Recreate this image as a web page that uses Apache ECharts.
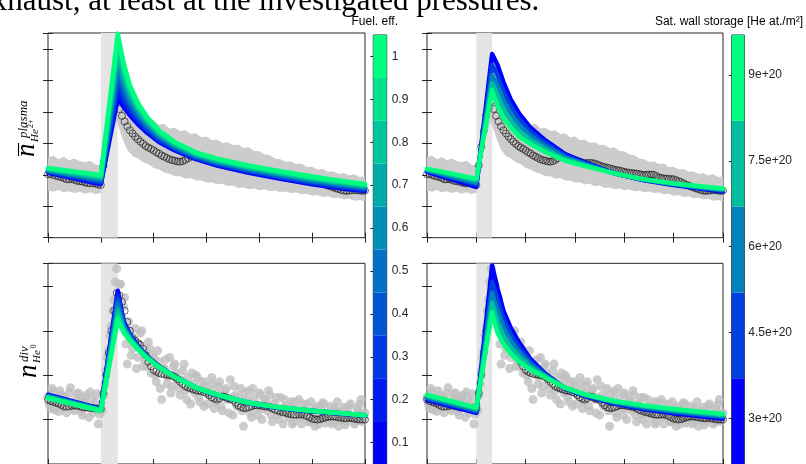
<!DOCTYPE html>
<html><head><meta charset="utf-8">
<script src="https://cdn.jsdelivr.net/npm/echarts@6/dist/echarts.min.js"></script>
<style>html,body{margin:0;padding:0;background:#fff}#c{width:806px;height:464px}</style>
</head><body><div id="c"></div><script>
// ---------------- data ----------------
const TOP_TEXT = 'exhaust, at least at the investigated pressures.';
const CB1_TITLE = 'Fuel. eff.';
const CB2_TITLE = 'Sat. wall storage [He at./m\u00B2]';
const SHADE = [1.0, 1.32];

// uncertainty band of the upper (plasma) measurement
const BAND_X = [0,0.1,0.2,0.3,0.4,0.5,0.6,0.7,0.8,0.9,1.0,1.1,1.2,1.3,1.4,1.5,1.6,1.7,1.8,1.9,2.0,2.1,2.2,2.3,2.4,2.5,2.6,2.7,2.8,2.9,3.0,3.1,3.2,3.3,3.4,3.5,3.6,3.7,3.8,3.9,4.0,4.1,4.2,4.3,4.4,4.5,4.6,4.7,4.8,4.9,5.0,5.1,5.2,5.3,5.4,5.5,5.6,5.7,5.8,5.9,6.0];
const TOP_UP = [2.55,2.62,2.50,2.58,2.47,2.52,2.44,2.40,2.45,2.33,2.30,3.50,4.50,4.90,4.55,4.22,4.08,3.92,3.86,3.72,3.74,3.60,3.63,3.48,3.50,3.40,3.42,3.30,3.33,3.20,3.22,3.10,3.13,3.02,3.04,2.95,2.96,2.86,2.88,2.76,2.75,2.65,2.63,2.52,2.50,2.42,2.43,2.35,2.36,2.25,2.26,2.17,2.19,2.10,2.12,2.03,2.06,1.98,2.02,1.93,1.95];
const TOP_LO = [1.50,1.46,1.52,1.44,1.48,1.42,1.46,1.40,1.45,1.39,1.42,2.30,3.30,3.70,3.20,2.80,2.60,2.52,2.40,2.34,2.22,2.17,2.08,2.04,1.96,1.96,1.88,1.90,1.82,1.82,1.76,1.76,1.70,1.72,1.64,1.66,1.58,1.60,1.54,1.57,1.51,1.54,1.48,1.50,1.45,1.47,1.42,1.44,1.38,1.40,1.34,1.36,1.30,1.32,1.26,1.28,1.22,1.24,1.18,1.20,1.15];

// measured (smoothed) points, black circles
const FINE_X = [0,0.05,0.1,0.15,0.2,0.25,0.3,0.35,0.4,0.45,0.5,0.55,0.6,0.65,0.7,0.75,0.8,0.85,0.9,0.95,1.0,1.05,1.1,1.15,1.2,1.25,1.3,1.35,1.4,1.45,1.5,1.55,1.6,1.65,1.7,1.75,1.8,1.85,1.9,1.95,2.0,2.05,2.1,2.15,2.2,2.25,2.3,2.35,2.4,2.45,2.5,2.55,2.6,2.65,2.7,2.75,2.8,2.85,2.9,2.95,3.0,3.05,3.1,3.15,3.2,3.25,3.3,3.35,3.4,3.45,3.5,3.55,3.6,3.65,3.7,3.75,3.8,3.85,3.9,3.95,4.0,4.05,4.1,4.15,4.2,4.25,4.3,4.35,4.4,4.45,4.5,4.55,4.6,4.65,4.7,4.75,4.8,4.85,4.9,4.95,5.0,5.05,5.1,5.15,5.2,5.25,5.3,5.35,5.4,5.45,5.5,5.55,5.6,5.65,5.7,5.75,5.8,5.85,5.9,5.95,6.0];
const TOP_BLACK = [2.02,2.03,2.00,1.97,1.95,1.93,1.90,1.86,1.86,1.87,
 1.84,1.81,1.80,1.79,1.76,1.74,1.73,1.74,1.72,1.69,
 1.68,2.30,2.90,3.40,3.90,4.15,4.35,4.10,3.88,3.70,
 3.55,3.42,3.32,3.22,3.14,3.06,2.99,2.92,2.87,2.83,
 2.78,2.72,2.68,2.62,2.58,2.54,2.50,2.47,2.45,2.43,
 2.42,2.44,2.48,2.53,2.58,2.59,2.57,2.55,2.52,2.50,
 2.47,2.44,2.42,2.39,2.37,2.38,2.38,2.38,2.36,2.33,
 2.30,2.27,2.25,2.23,2.21,2.19,2.17,2.15,2.14,2.12,
 2.10,2.08,2.07,2.06,2.05,2.04,2.03,2.01,2.00,2.00,
 2.01,2.01,2.00,1.96,1.92,1.90,1.89,1.88,1.87,1.87,
 1.86,1.83,1.80,1.77,1.73,1.69,1.66,1.63,1.60,1.57,
 1.55,1.52,1.50,1.49,1.50,1.51,1.52,1.51,1.50,1.49,
 1.50];
const BOT_BLACK = [1.45,1.42,1.40,1.38,1.36,1.33,1.30,1.29,1.30,1.31,
 1.32,1.31,1.30,1.28,1.27,1.27,1.26,1.26,1.25,1.25,
 1.24,1.60,2.00,2.50,3.00,3.45,3.85,3.80,3.65,3.45,
 3.20,3.00,2.85,2.78,2.72,2.68,2.60,2.45,2.30,2.20,
 2.12,2.08,2.05,2.03,2.02,2.01,2.00,1.99,1.96,1.91,
 1.85,1.80,1.75,1.72,1.70,1.68,1.66,1.65,1.64,1.62,
 1.60,1.55,1.50,1.47,1.45,1.48,1.52,1.51,1.48,1.46,
 1.44,1.38,1.32,1.28,1.26,1.26,1.28,1.30,1.32,1.32,
 1.32,1.31,1.30,1.29,1.28,1.25,1.22,1.20,1.18,1.16,
 1.15,1.13,1.12,1.11,1.11,1.11,1.12,1.10,1.08,1.05,
 1.02,1.01,1.00,1.01,1.03,1.05,1.06,1.07,1.07,1.06,
 1.05,1.04,1.03,1.03,1.04,1.03,1.02,1.01,1.00,1.00,
 1.00];

// raw divertor points, grey dots (two interleaved sets)
const GREY_Y = [1.50,1.25,1.62,1.38,1.18,1.55,1.45,1.15,1.60,1.35,1.20,1.58,1.42,1.10,1.50,1.32,1.62,1.15,1.40,0.90,1.30,1.55,2.10,2.55,3.10,3.70,4.40,4.05,3.30,3.75,2.25,3.00,2.60,3.05,2.40,2.95,2.20,2.55,2.75,2.05,2.40,1.85,2.30,1.45,2.15,1.80,2.40,1.75,2.25,1.90,1.55,2.10,1.65,1.95,1.35,1.80,2.00,1.50,1.85,1.30,1.75,1.55,1.95,1.25,1.60,1.85,1.20,1.65,1.45,1.90,1.10,1.55,1.35,1.70,0.85,1.40,1.65,1.05,1.50,1.25,1.60,1.00,1.45,1.20,1.55,0.95,1.35,1.10,1.50,0.90,1.30,1.05,1.40,0.95,1.25,1.45,0.90,1.15,1.35,0.95,1.20,0.85,1.30,1.05,1.38,0.92,1.15,1.30,0.95,1.20,0.85,1.10,1.28,0.95,1.30,1.05,0.90,1.25,1.35,0.95,1.15];
const FINE_X2 = [0.025,0.075,0.125,0.175,0.225,0.275,0.325,0.375,0.425,0.475,0.525,0.575,0.625,0.675,0.725,0.775,0.825,0.875,0.925,0.975,1.025,1.075,1.125,1.175,1.225,1.275,1.325,1.375,1.425,1.475,1.525,1.575,1.625,1.675,1.725,1.775,1.825,1.875,1.925,1.975,2.025,2.075,2.125,2.175,2.225,2.275,2.325,2.375,2.425,2.475,2.525,2.575,2.625,2.675,2.725,2.775,2.825,2.875,2.925,2.975,3.025,3.075,3.125,3.175,3.225,3.275,3.325,3.375,3.425,3.475,3.525,3.575,3.625,3.675,3.725,3.775,3.825,3.875,3.925,3.975,4.025,4.075,4.125,4.175,4.225,4.275,4.325,4.375,4.425,4.475,4.525,4.575,4.625,4.675,4.725,4.775,4.825,4.875,4.925,4.975,5.025,5.075,5.125,5.175,5.225,5.275,5.325,5.375,5.425,5.475,5.525,5.575,5.625,5.675,5.725,5.775,5.825,5.875,5.925,5.975];
const GREY_Y2 = [1.35,1.70,1.22,1.48,1.65,1.28,1.52,1.40,1.72,1.25,1.45,1.60,1.18,1.38,1.55,1.05,1.48,1.30,1.58,1.12,
 1.20,1.80,2.40,2.90,3.45,4.10,
 3.75,4.05,3.55,2.70,
 3.20,2.45,2.80,2.15,2.70,3.00,2.35,2.20,2.60,2.45,
 2.00,2.55,1.70,2.15,2.35,1.95,1.60,2.20,2.05,1.70,
 1.90,2.25,1.45,1.75,2.05,1.60,1.95,1.40,1.70,1.85,
 1.35,1.65,1.80,1.40,1.75,1.30,1.55,1.70,1.15,1.50,
 1.75,1.30,1.50,1.20,1.60,1.45,1.15,1.70,1.35,1.10,
 1.55,1.25,1.40,1.65,1.10,1.35,1.50,1.00,1.25,1.45,
 1.15,1.30,0.90,1.40,1.20,1.05,1.35,1.20,0.95,1.40,
 1.10,1.25,0.90,1.20,1.35,1.00,1.15,0.90,1.25,1.40,
 1.00,1.20,0.88,1.15,1.35,1.05,0.95,1.20,1.45,1.05];

// model curves
const LINE_X = [0,1.0,1.32,1.43,1.55,1.7,1.87,2.1,2.4,2.8,3.2,3.8,4.4,5.0,5.6,6.0];
const TL_FE = [
 [2.07,1.70,4.44,4.17,3.90,3.62,3.35,3.05,2.78,2.50,2.30,2.07,1.88,1.70,1.56,1.49],
 [2.09,1.73,4.67,4.33,4.01,3.70,3.41,3.09,2.81,2.52,2.32,2.10,1.91,1.73,1.59,1.51],
 [2.10,1.77,4.90,4.48,4.11,3.77,3.46,3.13,2.84,2.55,2.35,2.12,1.93,1.76,1.61,1.54],
 [2.12,1.80,5.13,4.64,4.22,3.85,3.52,3.17,2.87,2.57,2.37,2.15,1.96,1.78,1.64,1.56],
 [2.14,1.83,5.36,4.79,4.32,3.92,3.57,3.21,2.90,2.60,2.40,2.17,1.99,1.81,1.67,1.59],
 [2.15,1.87,5.58,4.95,4.43,4.00,3.63,3.26,2.93,2.62,2.42,2.20,2.01,1.84,1.69,1.61],
 [2.17,1.90,5.81,5.10,4.53,4.07,3.68,3.30,2.96,2.65,2.45,2.22,2.04,1.87,1.72,1.64],
 [2.19,1.93,6.04,5.26,4.64,4.15,3.74,3.34,2.99,2.67,2.47,2.25,2.07,1.89,1.75,1.66],
 [2.20,1.97,6.27,5.41,4.74,4.22,3.79,3.38,3.02,2.70,2.50,2.27,2.09,1.92,1.77,1.69],
 [2.22,2.00,6.50,5.57,4.85,4.30,3.85,3.42,3.05,2.72,2.52,2.30,2.12,1.95,1.80,1.71]
];
const TR_SAT = [
 [2.10,1.62,5.85,5.50,4.95,4.40,3.95,3.50,3.10,2.66,2.40,2.05,1.83,1.68,1.55,1.47],
 [2.13,1.69,5.50,5.18,4.66,4.18,3.77,3.37,3.01,2.61,2.37,2.05,1.84,1.69,1.57,1.50],
 [2.15,1.75,5.17,4.85,4.38,3.95,3.59,3.24,2.91,2.56,2.34,2.05,1.85,1.71,1.59,1.52],
 [2.18,1.82,4.92,4.53,4.09,3.73,3.40,3.11,2.82,2.50,2.31,2.05,1.85,1.72,1.61,1.55],
 [2.20,1.88,4.70,4.20,3.80,3.50,3.22,2.98,2.72,2.45,2.28,2.05,1.86,1.73,1.63,1.57]
];
const BL_FE = [
 [1.56,1.24,3.90,3.22,2.92,2.66,2.43,2.20,1.97,1.72,1.55,1.37,1.26,1.19,1.13,1.09],
 [1.55,1.24,3.83,3.19,2.90,2.65,2.43,2.20,1.97,1.72,1.55,1.37,1.26,1.19,1.13,1.09],
 [1.54,1.23,3.75,3.16,2.89,2.64,2.42,2.20,1.97,1.72,1.55,1.37,1.26,1.19,1.13,1.09],
 [1.53,1.23,3.68,3.13,2.87,2.63,2.42,2.19,1.97,1.72,1.55,1.37,1.26,1.19,1.13,1.09],
 [1.52,1.22,3.61,3.10,2.86,2.62,2.41,2.19,1.97,1.72,1.55,1.37,1.26,1.19,1.13,1.09],
 [1.52,1.22,3.53,3.08,2.84,2.62,2.41,2.19,1.96,1.72,1.56,1.38,1.27,1.20,1.14,1.10],
 [1.51,1.21,3.46,3.05,2.83,2.61,2.40,2.19,1.96,1.72,1.56,1.38,1.27,1.20,1.14,1.10],
 [1.50,1.21,3.39,3.02,2.81,2.60,2.40,2.18,1.96,1.72,1.56,1.38,1.27,1.20,1.14,1.10],
 [1.49,1.20,3.31,2.99,2.80,2.59,2.39,2.18,1.96,1.72,1.56,1.38,1.27,1.20,1.14,1.10],
 [1.48,1.20,3.24,2.96,2.78,2.58,2.39,2.18,1.96,1.72,1.56,1.38,1.27,1.20,1.14,1.10]
];
const BR_SAT = [
 [1.44,1.15,4.47,3.95,3.45,3.06,2.73,2.36,2.03,1.70,1.53,1.36,1.23,1.14,1.07,1.02],
 [1.47,1.18,4.10,3.70,3.26,2.92,2.62,2.30,2.01,1.71,1.54,1.38,1.25,1.17,1.10,1.05],
 [1.50,1.21,3.85,3.45,3.08,2.77,2.52,2.24,1.99,1.71,1.55,1.39,1.28,1.19,1.12,1.08],
 [1.53,1.24,3.63,3.20,2.89,2.63,2.41,2.18,1.97,1.72,1.56,1.40,1.30,1.22,1.15,1.10],
 [1.56,1.27,3.42,2.95,2.70,2.48,2.30,2.12,1.95,1.72,1.57,1.42,1.32,1.24,1.17,1.13]
];

const WINTER10 = ['#0000FF','#001CF1','#0039E3','#0055D5','#0071C6','#008EB8','#00AAAA','#00C69C','#00E38E','#00FF80'];
const WINTER5 = ['#0000FF','#0040DF','#0080BF','#00BF9F','#00FF80'];
const FE_EDGES = [0.05,0.15,0.25,0.35,0.45,0.55,0.65,0.75,0.85,0.95,1.05];
const FE_TICKS = [0.1,0.2,0.3,0.4,0.5,0.6,0.7,0.8,0.9,1];
const SAT_EDGES = [2.2,3.7,5.2,6.7,8.2,9.7];   // x 1e20
const SAT_TICKS = [3,4.5,6,7.5,9];            // x 1e20

// ---------------- chart ----------------
const AX = '#262626';
const SANS = '"Liberation Sans", Arial, sans-serif';
const SERIF = '"Liberation Serif", "Times New Roman", serif';
const panels = [
  {left:48, top:33, width:317, height:204.7, ymax:6.52, lines:TL_FE, colors:WINTER10, kind:'top'},
  {left:427, top:33, width:296, height:204.7, ymax:6.52, lines:TR_SAT, colors:WINTER5, kind:'top'},
  {left:48, top:263.3, width:317, height:203.4, ymax:4.52, lines:BL_FE, colors:WINTER10, kind:'bot'},
  {left:427, top:263.3, width:296, height:203.4, ymax:4.52, lines:BR_SAT, colors:WINTER5, kind:'bot'}
];
const grid = [], xAxis = [], yAxis = [], series = [];
const circleStyle = {color:'rgba(0,0,0,0)', borderColor:'#111', borderWidth:0.8};
panels.forEach((p, i) => {
  grid.push({left:p.left, top:p.top, width:p.width, height:p.height, show:true,
    borderColor:AX, borderWidth:1, backgroundColor:'rgba(0,0,0,0)'});
  const tick = {inside:true, length:5, lineStyle:{color:AX, width:1}};
  ['bottom','top'].forEach(pos => xAxis.push({gridIndex:i, type:'value', position:pos, min:0, max:6, interval:1,
    axisLine:{show:false}, axisLabel:{show:false}, splitLine:{show:false}, axisTick:tick}));
  ['left','right'].forEach(pos => yAxis.push({gridIndex:i, type:'value', position:pos, min:0, max:p.ymax, interval:1,
    axisLine:{show:false}, axisLabel:{show:false}, splitLine:{show:false}, axisTick:tick}));
  const xi = 2*i, yi = 2*i;
  const ymax = p.ymax;
  series.push({type:'custom', xAxisIndex:xi, yAxisIndex:yi, z:1, silent:true, clip:true, data:[0],
    renderItem:(params, api) => {
      const a = api.coord([SHADE[0], ymax]); const b = api.coord([SHADE[1], 0]);
      return {type:'rect', shape:{x:a[0], y:a[1], width:b[0]-a[0], height:b[1]-a[1]}, style:{fill:'#e5e5e5'}};
    }});
  if (p.kind === 'top') {
    series.push({type:'custom', xAxisIndex:xi, yAxisIndex:yi, z:2, silent:true, clip:true, data:[0],
      renderItem:(params, api) => {
        const pts = [];
        BAND_X.forEach((x,k) => pts.push(api.coord([x, TOP_UP[k]])));
        for (let k = BAND_X.length-1; k >= 0; k--) pts.push(api.coord([BAND_X[k], TOP_LO[k]]));
        return {type:'polygon', shape:{points:pts}, style:{fill:'#cccccc'}};
      }});
    series.push({type:'scatter', xAxisIndex:xi, yAxisIndex:yi, z:3, silent:true, symbol:'circle', symbolSize:7,
      itemStyle:circleStyle, data:FINE_X.map((x,k) => [x, TOP_BLACK[k]])});
  } else {
    series.push({type:'scatter', xAxisIndex:xi, yAxisIndex:yi, z:2, silent:true, symbol:'circle', symbolSize:9,
      itemStyle:{color:'#bfbfbf'}, data:FINE_X.map((x,k) => [x, GREY_Y[k]])});
    series.push({type:'scatter', xAxisIndex:xi, yAxisIndex:yi, z:2, silent:true, symbol:'circle', symbolSize:9,
      itemStyle:{color:'#bfbfbf'}, data:FINE_X2.map((x,k) => [x, GREY_Y2[k]])});
    series.push({type:'scatter', xAxisIndex:xi, yAxisIndex:yi, z:3, silent:true, symbol:'circle', symbolSize:7,
      itemStyle:circleStyle, data:FINE_X.map((x,k) => [x, BOT_BLACK[k]])});
  }
  p.lines.forEach((arr, j) => {
    series.push({type:'line', xAxisIndex:xi, yAxisIndex:yi, z:4, silent:true, showSymbol:false, symbol:'none',
      clip:true, lineStyle:{width:4.5, color:p.colors[j], cap:'round', join:'round'},
      data:LINE_X.map((x,k) => [x, arr[k]])});
  });
});

// colorbars
const bars = [
  {left:373.3, top:35, width:13.4, height:433, edges:FE_EDGES, ticks:FE_TICKS, colors:WINTER10, margin:5,
   fmt:v => String(parseFloat(v.toFixed(2)))},
  {left:731.7, top:35, width:12.6, height:432.5, edges:SAT_EDGES, ticks:SAT_TICKS, colors:WINTER5, margin:4,
   fmt:v => String(parseFloat(v.toFixed(2))) + 'e+20'}
];
bars.forEach((b) => {
  const gi = grid.length;
  grid.push({left:b.left, top:b.top, width:b.width, height:b.height, show:true, borderColor:AX, borderWidth:1,
    backgroundColor:'rgba(0,0,0,0)'});
  const xi = xAxis.length, yi = yAxis.length;
  xAxis.push({gridIndex:gi, type:'value', min:0, max:1, show:false});
  yAxis.push({gridIndex:gi, type:'value', position:'right', min:b.edges[0], max:b.edges[b.edges.length-1],
    axisLine:{show:false}, splitLine:{show:false},
    axisTick:{show:true, inside:true, length:3, customValues:b.ticks, lineStyle:{color:AX}},
    axisLabel:{show:true, customValues:b.ticks, margin:b.margin, color:'#262626', fontSize:12, fontFamily:SANS, formatter:b.fmt}});
  const segs = b.colors.map((c,k) => [b.edges[k], b.edges[k+1], k]);
  series.push({type:'custom', xAxisIndex:xi, yAxisIndex:yi, z:1, silent:true, data:segs,
    renderItem:(params, api) => {
      const lo = api.value(0), hi = api.value(1), k = api.value(2);
      const a = api.coord([0, hi]); const c = api.coord([1, lo]);
      return {type:'rect', shape:{x:a[0], y:a[1], width:c[0]-a[0], height:c[1]-a[1]}, style:{fill:b.colors[k]}};
    }});
});

function mathLabel(ox, oy, parts) {
  return {type:'group', x:ox, y:oy, rotation:Math.PI/2, silent:true, children:parts};
}
function t(x, y, text, size, italic) {
  return {type:'text', x:x, y:y, style:{text:text, font:(italic?'italic ':'')+size+'px '+SERIF, fill:'#000',
    align:'left', verticalAlign:'middle'}};
}
const graphic = [
  {type:'text', x:-22, y:2, silent:true, style:{text:TOP_TEXT, font:'31px '+SERIF, fill:'#000', align:'left', verticalAlign:'middle'}},
  {type:'text', x:398, y:22, silent:true, style:{text:CB1_TITLE, font:'12px '+SANS, fill:'#000', align:'right', verticalAlign:'middle'}},
  {type:'text', x:803, y:22, silent:true, style:{text:CB2_TITLE, font:'12px '+SANS, fill:'#000', align:'right', verticalAlign:'middle'}},
  mathLabel(35, 157, [
    t(0, -8.2, 'n', 27, true),
    {type:'line', shape:{x1:1, y1:-16.5, x2:14, y2:-16.5}, style:{stroke:'#000', lineWidth:1.1}},
    t(19, -11.9, 'plasma', 13, true),
    t(15, -0.3, 'He', 11, true),
    t(29, -4.4, '2+', 8, false)
  ]),
  mathLabel(37, 378, [
    t(0, -8.2, 'n', 27, true),
    t(16, -12.9, 'div', 13, true),
    t(15, -0.3, 'He', 11, true),
    t(29.5, -3.4, '0', 8, false)
  ])
];

const chart = echarts.init(document.getElementById('c'), null, {renderer:'canvas'});
chart.setOption({animation:false, backgroundColor:'#ffffff', grid, xAxis, yAxis, series, graphic});
</script></body></html>
